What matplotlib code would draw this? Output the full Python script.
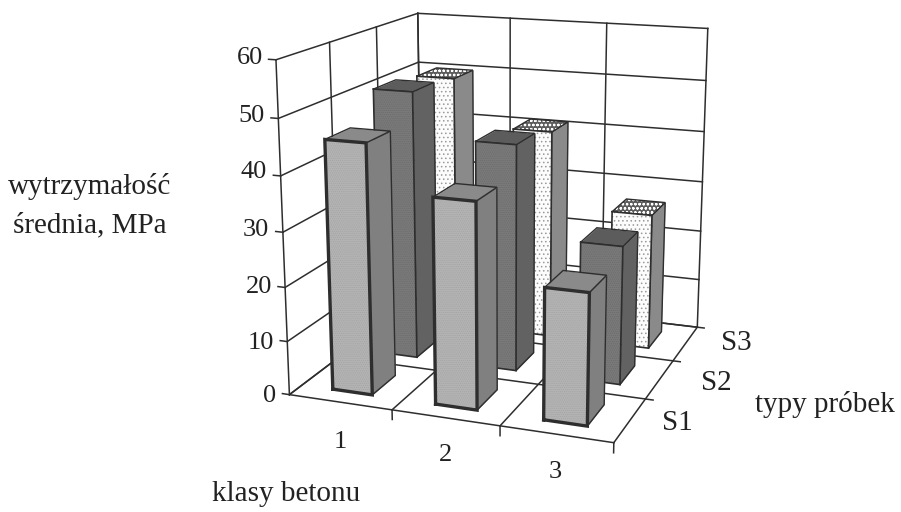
import matplotlib
matplotlib.use('Agg')
import matplotlib.pyplot as plt
from mpl_toolkits.mplot3d.art3d import Poly3DCollection

plt.rcParams['font.family'] = ['Liberation Serif', 'DejaVu Serif']
plt.rcParams['hatch.linewidth'] = 0.6

classes = ['1', '2', '3']
series = ['S1', 'S2', 'S3']
z_ticks = [0, 10, 20, 30, 40, 50, 60]
s1_values = [45.8, 37.4, 23.7]
s2_values = [51, 42.8, 26]
s3_values = [50, 41, 26.5]

# front, side, top fill for each series
front_colors = ['#b4b4b4', '#7a7a7a', '#fcfcfc']
side_colors = ['#808080', '#626262', '#8a8a8a']
top_colors = ['#8a8a8a', '#5c5c5c', '#5c5c5c']
front_hatch = ['........', '........', '....']
top_hatch = [None, None, 'oooo']
hatch_colors = ['#a4a4a4', '#6c6c6c', '#9a9a9a']

z_label_x = [276, 274, 272, 269, 267, 265, 263]
z_label_y = [396, 343, 287, 230, 172, 116, 58]
class_label_pos = [(340, 442), (445, 455), (555, 472)]
series_label_pos = [(677, 423), (716, 383), (736, 343)]

LINE = '#2e2e2e'
TEXT = '#222222'
BAR_X = 0.39
BAR_Y = 0.5
W, H = 901, 512


def face(ax, verts, color, zorder, hatch=None, hatch_color=None, lw=1.0):
    poly = Poly3DCollection([verts], facecolor=color, edgecolor=hatch_color or color,
                            linewidth=0, hatch=hatch, zorder=zorder)
    ax.add_collection3d(poly)
    xs, ys, zs = zip(*(verts + verts[:1]))
    ax.plot(xs, ys, zs, color=LINE, lw=lw, zorder=zorder + 0.01, solid_joinstyle='miter')


def draw_bar(ax, i, j, h, zorder):
    x0 = i + (1 - BAR_X) / 2
    x1 = x0 + BAR_X
    y0 = j + (1 - BAR_Y) / 2
    y1 = y0 + BAR_Y
    face(ax, [(x1, y0, 0), (x1, y1, 0), (x1, y1, h), (x1, y0, h)],
         side_colors[j], zorder, lw=1.0)
    face(ax, [(x0, y0, h), (x1, y0, h), (x1, y1, h), (x0, y1, h)],
         top_colors[j], zorder + 0.1, top_hatch[j], 'white', lw=1.0)
    face(ax, [(x0, y0, 0), (x1, y0, 0), (x1, y0, h), (x0, y0, h)],
         front_colors[j], zorder + 0.2, front_hatch[j], hatch_colors[j],
         lw=2.4 if j == 0 else 1.2)


def label(x, y, s, size=21, **kw):
    kw.setdefault('ha', 'center')
    fig.text(x / W, 1 - y / H, s, fontsize=size, va='center', color=TEXT, **kw)


fig = plt.figure(figsize=(9.01, 5.12), dpi=100)
ax = fig.add_axes([48.1 / W, 43.6 / H, 1, 1], projection='3d', computed_zorder=False)
ax.set_axis_off()
ax.set_proj_type('persp', focal_length=0.546)
ax.view_init(elev=15.16, azim=-69.81)
ax.set_box_aspect((1, 0.996, 1.003), zoom=1.07)
ax.set_xlim(0, 3, view_margin=0)
ax.set_ylim(0, 3, view_margin=0)
ax.set_zlim(0, 60, view_margin=0)

n_x = len(classes)
n_y = len(series)
grid = dict(color=LINE, lw=1.1, zorder=1)

# walls and floor
for z in z_ticks:
    ax.plot([0, 0], [0, n_y], [z, z], **grid)
    ax.plot([0, n_x], [n_y, n_y], [z, z], **grid)
for y in range(n_y + 1):
    ax.plot([0, 0], [y, y], [0, 60], **grid)
    ax.plot([0, n_x], [y, y], [0, 0], **grid)
for x in range(n_x + 1):
    ax.plot([x, x], [n_y, n_y], [0, 60], **grid)
    ax.plot([x, x], [0, n_y], [0, 0], **grid)

# tick marks
for z in z_ticks:
    ax.plot([0, -0.07], [0, 0], [z, z], **grid)
for x in range(1, n_x + 1):
    ax.plot([x, x], [0, 0], [0, -1.8], **grid)
for y in range(1, n_y + 1):
    ax.plot([n_x, n_x + 0.07], [y, y], [0, 0], **grid)

values = [s1_values, s2_values, s3_values]
zo = 2
for j in reversed(range(n_y)):
    for i in range(n_x):
        draw_bar(ax, i, j, values[j][i], zo)
        zo += 1

for z, x, y in zip(z_ticks, z_label_x, z_label_y):
    label(x, y, str(z), size=19, ha='right')
for name, (x, y) in zip(classes, class_label_pos):
    label(x, y, name, size=19)
for name, (x, y) in zip(series, series_label_pos):
    label(x, y, name)

label(90, 187, 'wytrzymałość')
label(90, 225, 'średnia, MPa')
label(286, 494, 'klasy betonu')
label(825, 405, 'typy próbek')

fig.savefig('out.png', dpi=100)
